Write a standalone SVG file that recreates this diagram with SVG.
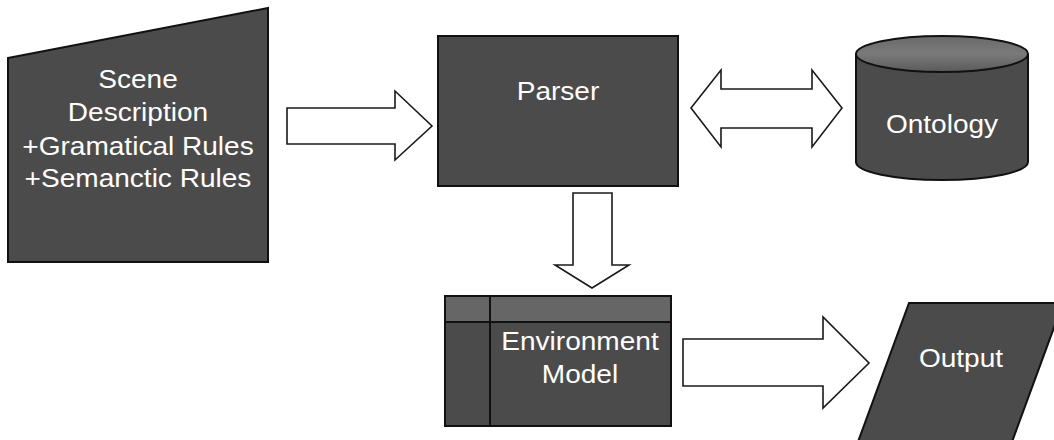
<svg xmlns="http://www.w3.org/2000/svg" width="1054" height="440" viewBox="0 0 1054 440">
<style>
.node{fill:#4b4b4b;stroke:#111;stroke-width:2;stroke-linejoin:miter}
.band{fill:#666;stroke:#111;stroke-width:2}
.line{fill:none;stroke:#111;stroke-width:2}
.arrow{fill:#fff;stroke:#1a1a1a;stroke-width:1.6;stroke-linejoin:miter}
.lbl{font-family:"Liberation Sans",Arial,sans-serif;font-size:25.5px;fill:#fff;text-anchor:middle}
</style>
<defs>
<linearGradient id="topg" x1="0" y1="0" x2="0" y2="1">
<stop offset="0" stop-color="#6a6a6a"/>
<stop offset="0.5" stop-color="#7a7a7a"/>
<stop offset="1" stop-color="#5a5a5a"/>
</linearGradient>
</defs>
<rect width="1054" height="440" fill="#fff"/>
<g id="connectors">
<polygon class="arrow" points="287,108 395,108 395,91 432,126 395,160 395,144 287,144"/>
<polygon class="arrow" points="691,108 721,70 721,89 812,89 812,70 842,108 812,147 812,128 721,128 721,147"/>
<polygon class="arrow" points="573,193 612,193 612,265 629,265 592,288 555,265 573,265"/>
<polygon class="arrow" points="683,339 823,339 823,317 869,363 823,408 823,386 683,386"/>
</g>
<g id="scene">
<polygon class="node" points="8,58 268,8 268,262 8,262"/>
<g transform="matrix(1.1,0,0,1,138,0)">
<text class="lbl" x="0" y="88">Scene</text>
<text class="lbl" x="0" y="121">Description</text>
<text class="lbl" x="0" y="155">+Gramatical Rules</text>
<text class="lbl" x="0" y="187">+Semanctic Rules</text>
</g>
</g>
<g id="parser">
<rect class="node" x="438" y="36" width="240" height="150"/>
<text class="lbl" transform="matrix(1.1,0,0,1,558,100)" x="0" y="0">Parser</text>
</g>
<g id="ontology">
<path class="node" d="M856,54 L856,162 A86,18 0 0 0 1028,162 L1028,54"/>
<ellipse cx="942" cy="54" rx="86" ry="18" fill="url(#topg)" stroke="#111" stroke-width="2"/>
<text class="lbl" transform="matrix(1.1,0,0,1,942,133)" x="0" y="0">Ontology</text>
</g>
<g id="environment">
<rect class="node" x="445" y="296" width="226" height="130"/>
<rect class="band" x="445" y="296" width="226" height="26"/>
<line class="line" x1="490" y1="296" x2="490" y2="426"/>
<g transform="matrix(1.1,0,0,1,580,0)">
<text class="lbl" x="0" y="350">Environment</text>
<text class="lbl" x="0" y="383">Model</text>
</g>
</g>
<g id="output">
<polygon class="node" points="909,303 1063,303 1009,450 855,450"/>
<text class="lbl" transform="matrix(1.1,0,0,1,961,367)" x="0" y="0">Output</text>
</g>
</svg>
